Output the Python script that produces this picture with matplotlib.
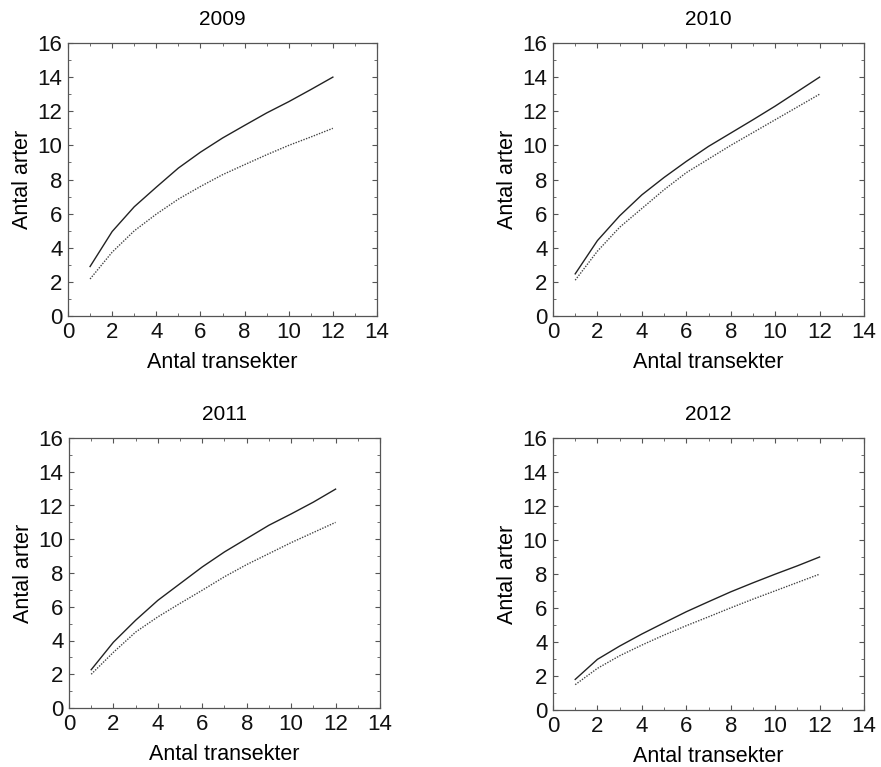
import matplotlib
matplotlib.use("Agg")
import matplotlib.pyplot as plt
from matplotlib.ticker import MultipleLocator

plt.rcParams['font.family'] = ['Liberation Sans', 'DejaVu Sans']

transects = [1, 2, 3, 4, 5, 6, 7, 8, 9, 10, 11, 12]

# species accumulation per year: solid and dotted curve
solid_2009 = [2.9, 4.95, 6.4, 7.55, 8.67, 9.6, 10.43, 11.17, 11.9, 12.56, 13.27, 14.0]
dotted_2009 = [2.17, 3.74, 4.99, 5.97, 6.85, 7.59, 8.28, 8.87, 9.45, 10.0, 10.49, 11.0]

solid_2010 = [2.47, 4.42, 5.87, 7.1, 8.12, 9.06, 9.94, 10.72, 11.5, 12.3, 13.15, 14.0]
dotted_2010 = [2.1, 3.8, 5.2, 6.3, 7.4, 8.4, 9.2, 10.0, 10.75, 11.5, 12.25, 13.0]

solid_2011 = [2.27, 3.9, 5.2, 6.38, 7.37, 8.36, 9.25, 10.04, 10.83, 11.5, 12.2, 12.97]
dotted_2011 = [2.0, 3.3, 4.5, 5.4, 6.2, 6.98, 7.78, 8.5, 9.15, 9.8, 10.4, 11.0]

solid_2012 = [1.8, 2.98, 3.76, 4.47, 5.13, 5.78, 6.37, 6.95, 7.48, 7.99, 8.48, 9.0]
dotted_2012 = [1.49, 2.45, 3.19, 3.82, 4.41, 4.96, 5.48, 6.01, 6.52, 7.01, 7.5, 7.99]

years = ['2009', '2010', '2011', '2012']
solid = [solid_2009, solid_2010, solid_2011, solid_2012]
dotted = [dotted_2009, dotted_2010, dotted_2011, dotted_2012]

W, H = 881, 767
# axes boxes in pixels: left, top, right, bottom
boxes = [(68, 43, 377, 316), (553, 43, 864, 316),
         (69, 438, 380, 708), (553, 438, 864, 710)]

fig = plt.figure(figsize=(W / 100, H / 100), dpi=100)

for year, s, d, (l, t, r, b) in zip(years, solid, dotted, boxes):
    ax = fig.add_axes([l / W, 1 - b / H, (r - l) / W, (b - t) / H])
    ax.plot(transects, s, color='#222222', lw=1.0)
    ax.plot(transects, d, color='#444444', lw=1.0, linestyle=(0, (1, 1)))
    ax.set_xlim(0, 14)
    ax.set_ylim(0, 16)
    ax.xaxis.set_major_locator(MultipleLocator(2))
    ax.yaxis.set_major_locator(MultipleLocator(2))
    ax.xaxis.set_minor_locator(MultipleLocator(1))
    ax.yaxis.set_minor_locator(MultipleLocator(1))
    ax.tick_params(which='both', direction='in', top=True, right=True,
                   labelsize=16, colors='#555555', labelcolor='#111111')
    ax.tick_params(which='major', length=3.5, width=0.8, pad=4)
    ax.tick_params(which='minor', length=2, width=0.6)
    for sp in ax.spines.values():
        sp.set_color('#555555')
        sp.set_linewidth(0.9)
    ax.set_title(year, fontsize=15, pad=13)
    ax.set_xlabel('Antal transekter', fontsize=15.5, labelpad=7)
    ax.set_ylabel('Antal arter', fontsize=15.5, labelpad=3)

fig.savefig('out.png', dpi=100, facecolor='white')
